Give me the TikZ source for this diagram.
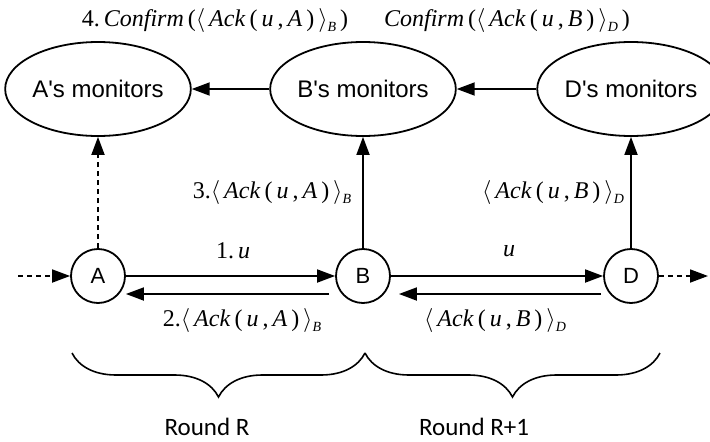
\RequirePackage{fix-cm}
\documentclass[tikz,border=0pt]{standalone}
\usepackage{fontspec}
\setmainfont{Liberation Serif}
\newfontfamily\lsans{Liberation Sans}
\newfontfamily\carl{Carlito}
\usetikzlibrary{shapes.geometric,arrows.meta,calc,decorations.pathreplacing}
\newcommand\ackm[2]{$\langle$\,\textit{Ack}\,(\,\textit{u}\,,\,\textit{#1}\,)\,$\rangle$\raisebox{-5pt}{\fontsize{14}{14}\selectfont\textit{#2}}}
\begin{document}
\begin{tikzpicture}[x=1pt,y=-1pt,
 every node/.style={inner sep=0pt},
 mon/.style={ellipse,draw,line width=1.8pt,minimum width=173pt,minimum height=94pt,font=\lsans\fontsize{24}{28}\selectfont},
 proc/.style={circle,draw,line width=1.8pt,minimum size=54pt,font=\lsans\fontsize{22}{26}\selectfont},
 arr/.style={line width=1.8pt,-{Triangle[length=18pt,width=13pt]}},
 darr/.style={arr,dash pattern=on 5pt off 4pt},
 lab/.style={font=\fontsize{24}{28}\selectfont},
 rnd/.style={font=\carl\fontsize{25}{29}\selectfont},
 brc/.style={decorate,decoration={brace,mirror,amplitude=44pt},line width=1.6pt}]
\useasboundingbox (0,0) rectangle (710,442);
\node[mon] (Am) at (98,89) {A's monitors};
\node[mon] (Bm) at (363,89) {B's monitors};
\node[mon] (Dm) at (631,89) {D's monitors};
\node[proc] (A) at (98,276) {A};
\node[proc] (B) at (363,276) {B};
\node[proc] (D) at (631,276) {D};
\coordinate (inA) at (18,276);
\coordinate (outD) at (708,276);
\draw[arr] (Bm) -- (Am);
\draw[arr] (Dm) -- (Bm);
\draw[darr] (A) -- (Am);
\draw[arr] (B) -- (Bm);
\draw[arr] (D) -- (Dm);
\draw[arr] (A) -- (B);
\draw[arr] (B) -- (D);
\draw[arr] ($(B.west)+(-6,18)$) -- ($(A.east)+(0,18)$);
\draw[arr] ($(D.west)+(-2,18)$) -- ($(B.east)+(8,18)$);
\draw[darr] (inA) -- (A);
\draw[darr] (D) -- (outD);
\node[lab] (l4) at (215,20) {4.\,\textit{Confirm}\,(\ackm{A}{B}\,)};
\node[lab] (lc) at (507,20) {\textit{Confirm}\,(\ackm{B}{D}\,)};
\node[lab] (l3) at (272,192) {3.\ackm{A}{B}};
\node[lab] (l1) at (233,251) {1.\,\textit{u}};
\node[lab] (l2) at (242,320) {2.\ackm{A}{B}};
\node[lab] (lu) at (509,251) {\textit{u}};
\node[lab] (ld1) at (553,192) {\ackm{B}{D}};
\node[lab] (ld2) at (495,320) {\ackm{B}{D}};
\coordinate (b1) at (72,353);
\coordinate (b2) at (365,353);
\coordinate (b3) at (660,353);
\draw[brc] (b1) -- (b2);
\draw[brc] (b2) -- (b3);
\node[rnd,anchor=base] (r1) at (207,435) {Round R};
\node[rnd,anchor=base] (r2) at (474,435) {Round R+1};
\end{tikzpicture}
\end{document}
